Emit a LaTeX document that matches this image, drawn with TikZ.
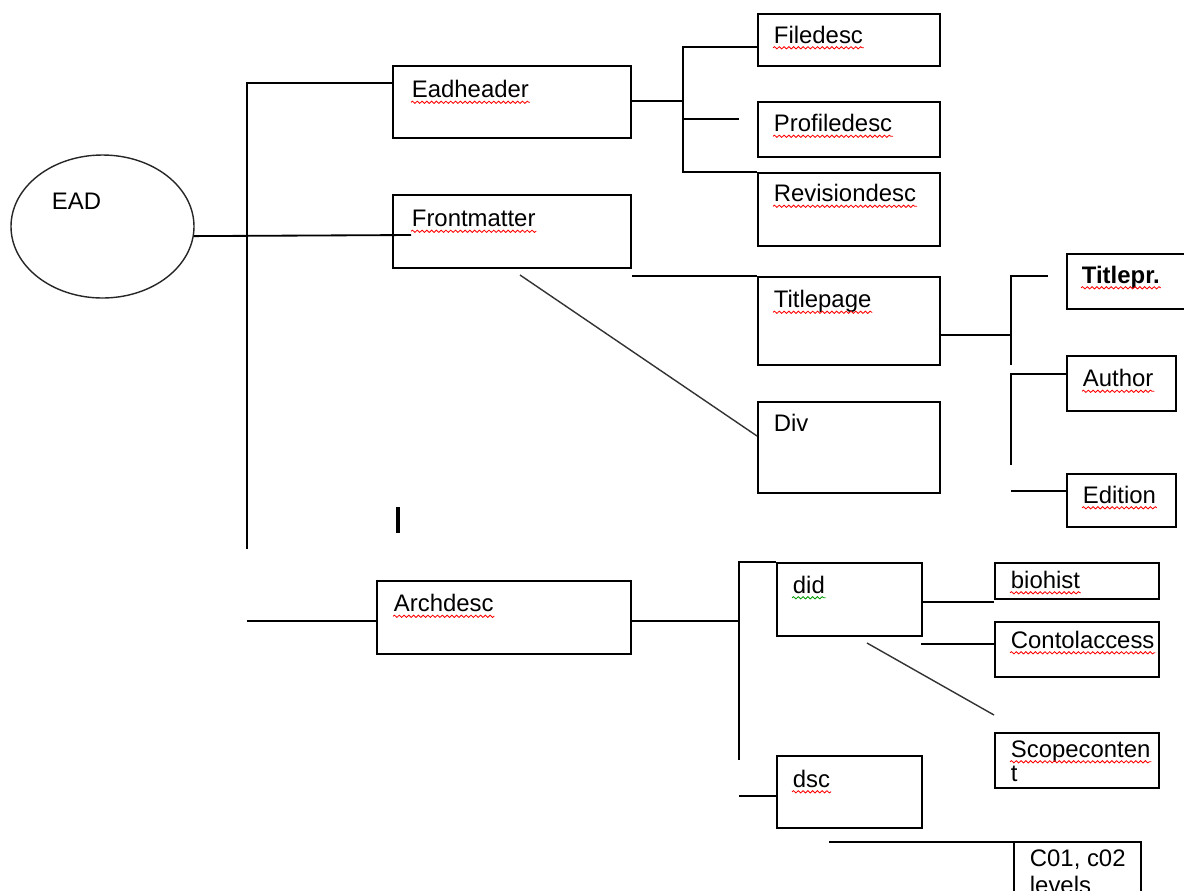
\documentclass[tikz,border=0pt]{standalone}
\usepackage{fontspec}
\setmainfont{Liberation Sans}
\usetikzlibrary{shapes.geometric}
\usetikzlibrary{decorations.pathmorphing}

\begin{document}
\begin{tikzpicture}[x=0.025cm,y=-0.025cm,line width=1.3pt,
  box/.style={draw,rectangle,inner sep=0pt,anchor=north west},
  wh/.style 2 args={minimum width=#1*0.025cm,minimum height=#2*0.025cm},
  txt/.style={inner sep=0pt,anchor=base west,font=\fontsize{17}{19}\selectfont},
  spell/.style={red,line width=0.6pt,decorate,
     decoration={snake,segment length=3.4pt,amplitude=0.8pt}}]

\useasboundingbox (0,0) rectangle (1184,890);
\clip (0,0) rectangle (1184,890);

% root
\node[ellipse,draw,line width=1pt,black!85,wh={183}{143}] (ead) at (102.5,226.5) {};
\node[txt] (t-ead) at (51,209) {EAD};

% boxes
\node[box,wh={238}{72}] (eh) at (392,65) {};
\node[box,wh={238}{73}] (fm) at (392,194) {};
\node[box,wh={182}{52}] (fd) at (757,13) {};
\node[box,wh={182}{55}] (pd) at (757,101) {};
\node[box,wh={182}{73}] (rd) at (757,172) {};
\node[box,wh={182}{88}] (tp) at (757,276) {};
\node[box,wh={182}{91}] (dv) at (757,401) {};
\node[box,wh={130}{55}] (tr) at (1066,253) {};
\node[box,wh={109}{55}] (au) at (1066,355) {};
\node[box,wh={109}{53}] (ed) at (1066,473) {};
\node[box,wh={254}{73}] (ad) at (376,580) {};
\node[box,wh={145}{73}] (dd) at (776,562) {};
\node[box,wh={164}{36}] (bh) at (994,562) {};
\node[box,wh={164}{55}] (ca) at (994,621) {};
\node[box,wh={164}{55}] (sc) at (994,732) {};
\node[box,wh={145}{72}] (ds) at (776,755) {};
\node[box,wh={127}{64}] (cl) at (1013,841) {};

% texts
\node[txt] (t-eh) at (411,97.5) {Eadheader};
\node[txt] (t-fm) at (411,226.5) {Frontmatter};
\node[txt] (t-fd) at (773,43) {Filedesc};
\node[txt] (t-pd) at (773,131.5) {Profiledesc};
\node[txt] (t-rd) at (773,201.5) {Revisiondesc};
\node[txt] (t-tp) at (773,307.5) {Titlepage};
\node[txt] (t-dv) at (773,431.5) {Div};
\node[txt,font=\fontsize{17}{19}\selectfont\bfseries] (t-tr) at (1081,283) {Titlepr.};
\node[txt] (t-au) at (1082,386.5) {Author};
\node[txt] (t-ed) at (1082,503) {Edition};
\node[txt] (t-ad) at (393,611.5) {Archdesc};
\node[txt] (t-dd) at (792,593) {did};
\node[txt] (t-bh) at (1010,588) {biohist};
\node[txt] (t-ca) at (1010,648) {Contolaccess};
\node[txt] (t-sc) at (1010,757) {Scopeconten};
\node[txt] (t-sc2) at (1010,781) {t};
\node[txt] (t-ds) at (792,787) {dsc};
\node[txt] (t-cl) at (1029,866) {C01, c02};
\node[txt] (t-cl2) at (1029,893) {levels};

% spelling marks
\foreach \n in {t-eh,t-fm,t-fd,t-pd,t-rd,t-tp,t-tr,t-au,t-ed,t-ad,t-bh,t-ca,t-sc,t-ds}
  \draw[spell] ([yshift=-3.4pt]\n.base west) -- ([yshift=-3.4pt]\n.base east);
\draw[spell,green!60!black] ([yshift=-3.4pt]t-dd.base west) -- ([yshift=-3.4pt]t-dd.base east);

% trunk
\coordinate (fmstub) at (411,235);
\coordinate (tk1) at (247,83);
\coordinate (tk2) at (247,549);
\coordinate (adstub) at (247,621);
\draw (ead.-6) -- (fmstub);
\draw (tk2) -- (tk1) -- (tk1 -| eh.west);
\draw (adstub) -- (adstub -| ad.west);

% eadheader
\coordinate (eb1) at (683,47);
\coordinate (eb2) at (683,101);
\coordinate (eb3) at (683,119);
\coordinate (eb4) at (683,172);
\coordinate (pdstub) at (739,119);
\draw (eb2 -| eh.east) -- (eb2);
\draw (eb1 -| fd.west) -- (eb1) -- (eb4) -- (rd.north west);
\draw (eb3) -- (pdstub);

% frontmatter
\coordinate (fmdiag) at (520,275);
\coordinate (dvin) at (757,436);
\draw (tp.north west -| fm.east) -- (tp.north west);
\draw[line width=1pt,black!80] (fmdiag) -- (dvin);

% titlepage
\coordinate (tb1) at (1011,276);
\coordinate (tb2) at (1011,335);
\coordinate (tb3) at (1011,365);
\coordinate (trstub) at (1048,276);
\coordinate (tb4) at (1011,374);
\coordinate (tb5) at (1011,465);
\coordinate (edstub) at (1011,491);
\draw (tb2 -| tp.east) -- (tb2);
\draw (trstub) -- (tb1) -- (tb3);
\draw (tb5) -- (tb4) -- (tb4 -| au.west);
\draw (edstub) -- (edstub -| ed.west);

% cursor mark
\draw[line width=3.5pt] (398,507) -- (398,533);

% archdesc
\coordinate (ab1) at (739,562);
\coordinate (ab2) at (739,621);
\coordinate (ab3) at (739,760);
\coordinate (ab4) at (739,796);
\draw (ab2 -| ad.east) -- (ab2);
\draw (ab3) -- (ab1) -- (dd.north west);
\draw (ab4) -- (ab4 -| ds.west);

% did
\coordinate (bhin) at (994,602);
\coordinate (cain) at (921,644);
\coordinate (dddiag) at (867,643);
\coordinate (scin) at (994,715);
\draw (bhin -| dd.east) -- (bhin);
\draw (cain) -- (cain -| ca.west);
\draw[line width=1pt,black!80] (dddiag) -- (scin);

% dsc
\coordinate (dsline) at (829,842);
\draw (dsline) -- (dsline -| cl.west);
\end{tikzpicture}
\end{document}
